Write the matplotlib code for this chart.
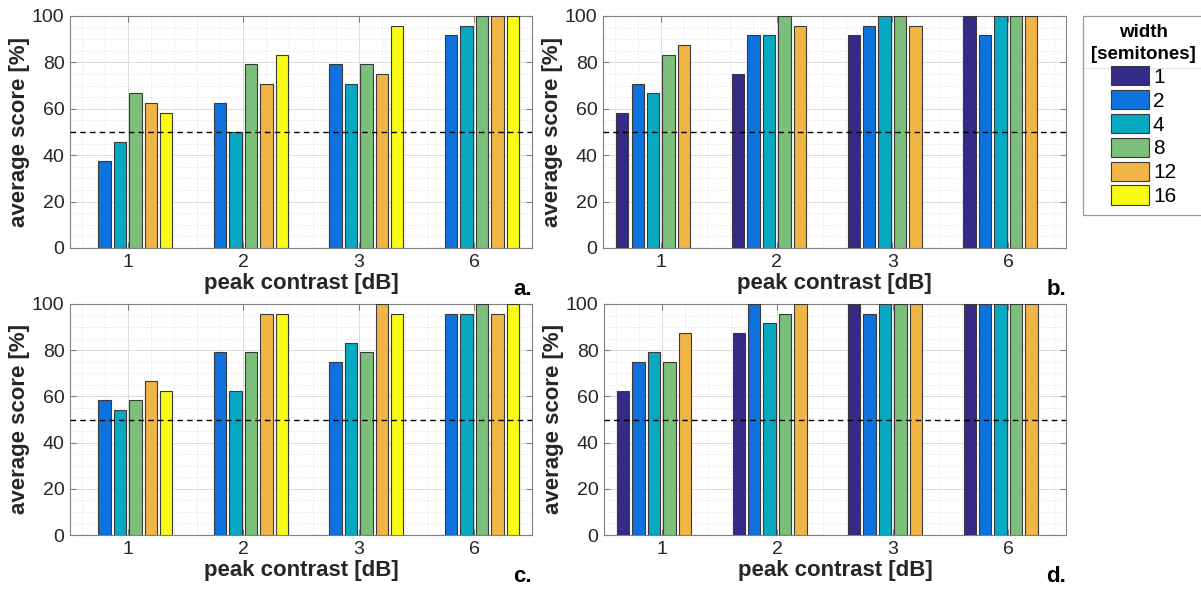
import matplotlib
matplotlib.use("Agg")
import matplotlib.pyplot as plt
import numpy as np
from matplotlib.lines import Line2D
from matplotlib.ticker import MultipleLocator

plt.rcParams["font.family"] = ["Liberation Sans", "DejaVu Sans"]

contrasts = ["1", "2", "3", "6"]
widths = ["1", "2", "4", "8", "12", "16"]
colors = ["#352a87", "#0d72de", "#06a9c1", "#7cbf7a", "#f1b545", "#f9fb14"]

# rows = peak contrast, columns = width [semitones]
scores_a = [
    [0, 37.5, 45.8, 66.7, 62.5, 58.3],
    [0, 62.5, 50.0, 79.2, 70.8, 83.3],
    [0, 79.2, 70.8, 79.2, 75.0, 95.8],
    [0, 91.7, 95.8, 100, 100, 100],
]
scores_b = [
    [58.3, 70.8, 66.7, 83.3, 87.5, 0],
    [75.0, 91.7, 91.7, 100, 95.8, 0],
    [91.7, 95.8, 100, 100, 95.8, 0],
    [100, 91.7, 100, 100, 100, 0],
]
scores_c = [
    [0, 58.3, 54.2, 58.3, 66.7, 62.5],
    [0, 79.2, 62.5, 79.2, 95.8, 95.8],
    [0, 75.0, 83.3, 79.2, 100, 95.8],
    [0, 95.8, 95.8, 100, 95.8, 100],
]
scores_d = [
    [62.5, 75.0, 79.2, 75.0, 87.5, 0],
    [87.5, 100, 91.7, 95.8, 100, 0],
    [100, 95.8, 100, 100, 100, 0],
    [100, 100, 100, 100, 100, 0],
]
panel_letters = ["a.", "b.", "c.", "d."]

W, H = 1201, 590
# axes boxes in pixels: left, top, right, bottom
boxes = [
    (70, 16, 532, 248),
    (603, 16, 1066, 248),
    (70, 304, 532, 535),
    (604, 304, 1066, 535),
]

fig = plt.figure(figsize=(W / 100, H / 100), dpi=100)


def draw_panel(ax, scores, letter):
    scores = np.array(scores)
    x = np.arange(1, len(contrasts) + 1)
    n = len(widths)
    step = 0.8 / n
    handles = []
    for i in range(n):
        offs = (i - (n - 1) / 2) * step
        h = ax.bar(x + offs, scores[:, i], width=step * 0.8, color=colors[i],
                   edgecolor="#3a3a3a", linewidth=0.8, zorder=3)
        handles.append(h)
    ax.axhline(50, color="black", linestyle=(0, (4, 3)), linewidth=1.0, zorder=4)
    ax.set_xlim(0.5, 4.5)
    ax.set_ylim(0, 100)
    ax.set_xticks(x)
    ax.set_xticklabels(contrasts)
    ax.set_yticks(range(0, 101, 20))
    ax.yaxis.set_minor_locator(MultipleLocator(5))
    ax.xaxis.set_minor_locator(MultipleLocator(0.2))
    ax.grid(True, which="major", color="#dcdcdc", linewidth=0.7, linestyle="-", zorder=0)
    ax.grid(True, which="minor", color="#e6e6e6", linewidth=0.6, linestyle=(0, (2, 2)), zorder=0)
    ax.tick_params(which="major", direction="in", length=4, top=True, right=True,
                   labelsize=14, colors="#808080", labelcolor="#262626", pad=4)
    ax.tick_params(which="minor", length=0)
    for s in ax.spines.values():
        s.set_color("#808080")
        s.set_linewidth(0.8)
    ax.set_xlabel("peak contrast [dB]", fontsize=16, fontweight="bold", color="#262626", labelpad=2)
    ax.set_ylabel("average score [%]", fontsize=16, fontweight="bold", color="#262626", labelpad=1)
    ax.text(1.0, -0.18, letter, transform=ax.transAxes, ha="right", va="center",
            fontsize=16, fontweight="bold", color="black")
    return handles


all_scores = [scores_a, scores_b, scores_c, scores_d]
legend_handles = None
for k, (l, t, r, b) in enumerate(boxes):
    ax = fig.add_axes([l / W, 1 - b / H, (r - l) / W, (b - t) / H])
    hs = draw_panel(ax, all_scores[k], panel_letters[k])
    if k == 1:
        legend_handles = hs

leg = fig.legend(legend_handles, widths, loc="upper left",
                 bbox_to_anchor=(1083 / W, 1 - 16 / H), title="width\n[semitones]",
                 fontsize=15, frameon=True, fancybox=False, edgecolor="#808080",
                 handlelength=1.8, handleheight=1.05, handletextpad=0.2,
                 labelspacing=0.15, borderpad=0.4, borderaxespad=0,
                 alignment="center")
title = leg.get_title()
title.set_fontweight("bold")
title.set_fontsize(13.5)
title.set_linespacing(1.35)
title.set_multialignment("center")
leg.get_frame().set_linewidth(0.9)
fig.add_artist(Line2D([1083 / W, 1201 / W], [1 - 68 / H, 1 - 68 / H],
                      transform=fig.transFigure, color="#808080", linewidth=0.9))

fig.savefig("out.png", dpi=100)
